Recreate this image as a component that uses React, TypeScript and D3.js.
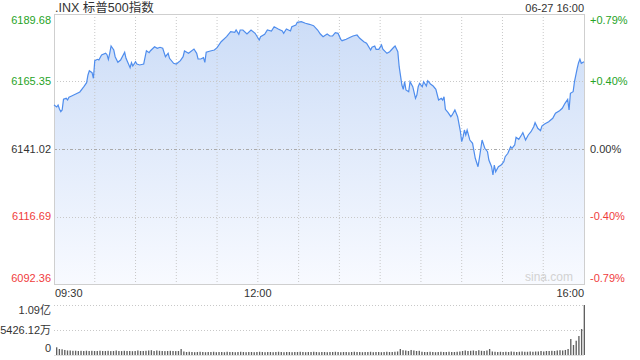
import React from "react";
import * as d3 from "d3";

const title = ".INX 标普500指数";
const stamp = "06-27 16:00";
const priceTicks = [6189.68, 6165.35, 6141.02, 6116.69, 6092.36];
const pctTicks = ["+0.79%", "+0.40%", "0.00%", "-0.40%", "-0.79%"];
const tickTone = ["up", "up", "flat", "down", "down"];
const timeLabels: [number, string][] = [[0, "09:30"], [150, "12:00"], [390, "16:00"]];
const gridMinutes = [30, 60, 90, 120, 150, 180, 210, 240, 270, 300, 330, 360];
const volTicks = [10852.24, 5426.12, 0];
const volTickLabels = ["1.09亿", "5426.12万", "0"];

// [minutes since 09:30, index level]
const pricePoints: [number, number][] = [
  [0, 6156.88], [2, 6156.16], [3, 6156.88], [4, 6155.44], [5, 6154.47], [6, 6155.08], [7, 6158.93], [9, 6159.29],
  [10, 6158.68], [11, 6159.66], [13, 6160.12], [16, 6160.84], [19, 6161.57], [22, 6163.48], [24, 6164.92], [25, 6167.69],
  [26, 6169.24], [28, 6168.52], [29, 6166.5], [30, 6172.85], [32, 6173.35], [33, 6173.1], [35, 6174.9], [38, 6175.51],
  [39, 6175.01], [40, 6173.35], [41, 6175.51], [42, 6178.15], [44, 6176.7], [45, 6174.29], [47, 6172.27], [49, 6173.1],
  [52, 6175.88], [53, 6173.71], [56, 6170.32], [57, 6172.13], [58, 6170.94], [60, 6172.49], [61, 6171.66], [63, 6171.3],
  [66, 6171.66], [68, 6176.45], [70, 6175.73], [71, 6176.45], [74, 6177.89], [76, 6177.32], [78, 6177.68], [80, 6177.32],
  [82, 6174.29], [84, 6175.51], [85, 6173.71], [88, 6171.91], [90, 6171.66], [93, 6172.85], [95, 6174.29], [96, 6176.34],
  [99, 6175.51], [103, 6177.06], [105, 6175.51], [106, 6173.46], [108, 6173.46], [110, 6173.93], [111, 6172.27], [112, 6175.88],
  [115, 6176.34], [118, 6176.7], [120, 6177.53], [123, 6179.7], [127, 6181.5], [130, 6183.3], [133, 6183.08], [134, 6183.91],
  [136, 6182.36], [137, 6183.91], [139, 6183.91], [142, 6182.47], [145, 6183.91], [148, 6182.72], [151, 6180.31], [152, 6181.5],
  [155, 6182.36], [157, 6183.91], [160, 6183.55], [162, 6185.1], [165, 6184.27], [168, 6183.55], [169, 6182.72], [171, 6184.27],
  [174, 6183.55], [175, 6185.1], [178, 6185.72], [179, 6186.69], [182, 6186.9], [185, 6186.33], [188, 6185.97], [191, 6185.46],
  [194, 6183.91], [196, 6182.47], [198, 6181.5], [201, 6182.47], [203, 6181.75], [205, 6181.75], [207, 6182.94], [209, 6182.72],
  [211, 6180.56], [212, 6180.06], [215, 6180.56], [218, 6181.28], [220, 6181.75], [223, 6182.11], [225, 6180.92], [228, 6179.7],
  [230, 6179.12], [233, 6176.7], [234, 6177.68], [236, 6178.15], [237, 6176.96], [239, 6176.96], [241, 6178.51], [242, 6176.96],
  [245, 6175.51], [247, 6176.09], [250, 6177.68], [251, 6178.15], [253, 6176.09], [254, 6170.68], [256, 6164.09], [257, 6162.54],
  [258, 6165.28], [259, 6162.29], [261, 6161.67], [262, 6165.28], [264, 6163.48], [266, 6159.29], [267, 6160.48], [268, 6163.48],
  [269, 6164.7], [271, 6163.48], [272, 6165.28], [274, 6163.73], [275, 6165.64], [277, 6164.45], [279, 6163.73], [281, 6162.54],
  [283, 6158.68], [285, 6159.29], [286, 6158.68], [287, 6159.87], [288, 6155.33], [290, 6154.1], [292, 6152.66], [293, 6153.28],
  [295, 6155.08], [297, 6152.66], [299, 6147.5], [300, 6143.65], [301, 6145.35], [302, 6147.87], [303, 6146.07], [304, 6147.87],
  [306, 6144.26], [308, 6143.07], [310, 6137.67], [312, 6134.64], [313, 6137.67], [315, 6144.26], [317, 6141.27], [319, 6140.05],
  [320, 6137.06], [322, 6134.64], [323, 6131.65], [324, 6135.25], [325, 6132.84], [327, 6134.64], [329, 6135.25], [331, 6136.44],
  [332, 6138.25], [334, 6139.47], [336, 6141.85], [337, 6141.27], [339, 6142.46], [340, 6145.24], [342, 6144.52], [344, 6146.07],
  [345, 6146.9], [347, 6144.26], [349, 6146.07], [351, 6147.26], [353, 6149.06], [354, 6150.5], [356, 6148.48], [358, 6147.62],
  [359, 6149.31], [361, 6150.03], [364, 6150.86], [367, 6152.09], [369, 6153.89], [372, 6154.83], [374, 6155.69], [376, 6157.49],
  [378, 6158.93], [379, 6155.08], [380, 6161.1], [382, 6161.67], [383, 6165.28], [385, 6170.11], [386, 6172.13], [387, 6173.35],
  [388, 6171.91], [390, 6172.49],
];

// volume per 2-minute bucket, in 万 shares
const volumes = [
  1670, 1300, 1240, 1090, 980, 980, 910, 930, 870, 910, 870, 930, 870, 910, 870, 870, 930, 870,
  870, 910, 850, 870, 980, 870, 850, 910, 870, 870, 830, 870, 980, 870, 870, 910, 980, 1040, 870, 980, 910, 870, 850, 870, 910, 870, 850, 870,
  1300,
  760, 650, 700, 650, 610, 650, 700, 650, 610, 650, 650, 700, 610, 650, 650, 610, 700, 650, 650, 610, 650, 700,
  650, 610, 650, 650, 610, 650, 700, 650, 610, 650, 650, 610, 650, 700, 650, 610, 650, 650, 610, 650, 650, 700,
  650, 610, 650, 650, 700, 650, 610, 650, 650, 610, 650, 650, 700, 650, 610, 650, 650, 610, 650, 700,
  650, 650, 610, 650, 650, 700, 610, 650, 650, 610, 650, 700, 650, 650, 700, 760,
  1300,
  1040, 980, 870, 1090, 980, 870, 910,
  700, 650, 650, 700, 650, 610, 650, 700, 650, 650, 700, 650, 650, 700, 760,
  870, 980, 870, 910, 980, 870, 1040, 910, 870, 980,
  1300,
  760, 700, 650, 700, 650, 700, 650, 760, 700, 650, 700, 760, 700, 700, 760, 700, 760, 760, 870, 760, 870, 870, 910, 870, 980, 1040, 980,
  1090, 1300, 3470, 2170, 3100, 4120, 5640, 10852.24,
];

const UP = "#26a326";
const DOWN = "#f03c3c";
const FLAT = "#333";
const FONT = "'Liberation Sans', Arial, 'Noto Sans CJK SC', sans-serif";

export default function App() {
  const left = 54, right = 584, top = 14, bottom = 284;
  const x = d3.scaleLinear().domain([0, 390]).range([left, right]);
  const y = d3.scaleLinear().domain([6092.36, 6189.68]).range([bottom, top]);
  const vTop = 305, vBottom = 355;
  const yV = d3.scaleLinear().domain([0, 10852.24]).range([vBottom, vTop]);
  const xb = d3.scaleBand<number>().domain(volumes.map((_, i) => i)).range([56, 585]).paddingInner(0.5);

  const line = d3.line<[number, number]>().x((d) => x(d[0])).y((d) => y(d[1]));
  const area = d3.area<[number, number]>().x((d) => x(d[0])).y0(bottom).y1((d) => y(d[1]));
  const toneColor = (t: string) => (t === "up" ? UP : t === "down" ? DOWN : FLAT);

  const labelY = (i: number) => {
    const v = y(priceTicks[i]);
    if (i === 0) return v + 6;
    if (i === priceTicks.length - 1) return v - 6;
    return v;
  };
  const volLabelY = (i: number) => {
    const v = yV(volTicks[i]);
    if (i === 0) return v + 5;
    if (i === volTicks.length - 1) return v - 7;
    return v;
  };

  return (
    <svg
      width={640}
      height={360}
      style={{ position: "absolute", left: 0, top: 0, background: "#fff" }}
      fontFamily={FONT}
    >
      <defs>
        <linearGradient id="areaFill" gradientUnits="userSpaceOnUse" x1={0} y1={top} x2={0} y2={bottom}>
          <stop offset="0" stopColor="#cbdcf7" />
          <stop offset="1" stopColor="#f8faff" />
        </linearGradient>
      </defs>

      <path d={area(pricePoints) || ""} fill="url(#areaFill)" />

      {gridMinutes.map((m) => (
        <line key={m} x1={x(m)} x2={x(m)} y1={top} y2={bottom} stroke="#c8c8c8" strokeDasharray="1,2" />
      ))}
      {priceTicks.map((p, i) =>
        i === 0 || i === priceTicks.length - 1 ? null : (
          <line
            key={p}
            x1={left}
            x2={right}
            y1={Math.round(y(p)) + 0.5}
            y2={Math.round(y(p)) + 0.5}
            stroke={i === 2 ? "#aaa" : "#c8c8c8"}
            strokeDasharray={i === 2 ? "3,2,1,2" : "1,2"}
          />
        )
      )}

      <rect x={left + 0.5} y={top + 0.5} width={right - left} height={bottom - top} fill="none" stroke="#cfcfcf" />

      <path d={line(pricePoints) || ""} fill="none" stroke="#4f8ded" strokeWidth={1.2} />

      <text x={573} y={281} textAnchor="end" fontSize={12} fill="#d2d2d2">sina.com</text>

      <text x={55} y={12} fontSize={12.5} fill="#333">{title}</text>
      <text x={584} y={12} textAnchor="end" fontSize={11} fill="#333">{stamp}</text>

      {priceTicks.map((p, i) => (
        <text key={"l" + p} x={51} y={labelY(i)} dy="0.35em" textAnchor="end" fontSize={11} fill={toneColor(tickTone[i])}>
          {p.toFixed(2)}
        </text>
      ))}
      {pctTicks.map((t, i) => (
        <text key={"r" + t} x={590} y={labelY(i)} dy="0.35em" fontSize={11} fill={toneColor(tickTone[i])}>
          {t}
        </text>
      ))}

      {timeLabels.map(([m, t], i) => (
        <text
          key={t}
          x={i === 0 ? x(m) + 1 : x(m)}
          y={293}
          dy="0.35em"
          fontSize={11}
          fill="#333"
          textAnchor={i === 0 ? "start" : i === timeLabels.length - 1 ? "end" : "middle"}
        >
          {t}
        </text>
      ))}

      {volTicks.slice(0, 2).map((v) => (
        <line key={"vg" + v} x1={left} x2={right} y1={Math.round(yV(v)) + 0.5} y2={Math.round(yV(v)) + 0.5} stroke="#c8c8c8" strokeDasharray="1,2" />
      ))}
      <line x1={left} x2={right} y1={vBottom + 0.5} y2={vBottom + 0.5} stroke="#e2e2e2" />

      {volumes.map((v, i) => (
        <rect key={"b" + i} x={xb(i)} y={yV(v)} width={xb.bandwidth()} height={vBottom - yV(v)} fill="#606060" />
      ))}

      {volTickLabels.map((t, i) => (
        <text key={"vl" + t} x={51} y={volLabelY(i)} dy="0.35em" textAnchor="end" fontSize={11} fill="#333">
          {t}
        </text>
      ))}
    </svg>
  );
}
